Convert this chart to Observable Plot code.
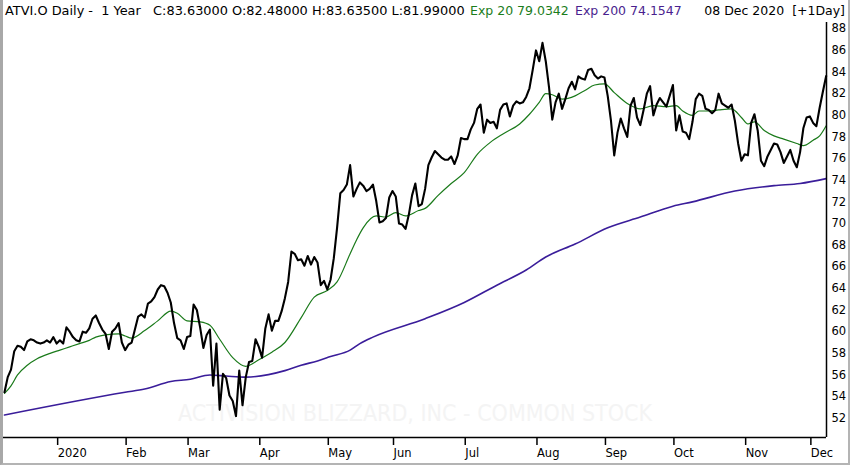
<!DOCTYPE html>
<html><head><meta charset="utf-8">
<script src="https://cdn.jsdelivr.net/npm/d3@7"></script>
<script src="https://cdn.jsdelivr.net/npm/@observablehq/plot@0.6"></script>
<style>
html,body{margin:0;padding:0;background:#fff;}
#wrap{position:relative;width:850px;height:465px;overflow:hidden;font-family:"DejaVu Sans",sans-serif;}
.hd{position:absolute;top:2px;font-size:12.5px;line-height:18px;white-space:pre;}
#border{position:absolute;left:0;top:0;width:850px;height:465px;box-sizing:border-box;border-left:3px solid #a8a8a8;border-right:2px solid #b4b4b4;border-bottom:2px solid #b4b4b4;pointer-events:none;}
#chart{position:absolute;left:0;top:0;}
</style></head>
<body>
<div id="wrap">
  <div id="chart"></div>
  <div class="hd" id="h1" style="left:5px;color:#000;font-size:12.9px"></div>
  <div class="hd" id="h2" style="left:470px;color:#1b7d1b"></div>
  <div class="hd" id="h3" style="left:575px;color:#4a1f8f"></div>
  <div class="hd" id="h4" style="right:5px;color:#000"></div>
  <div id="border"></div>
</div>
<script>
// ---- Data ----
const symbolTitle = "ATVI.O Daily -  1 Year";
const ohlc = ["C:83.63000", "O:82.48000", "H:83.63500", "L:81.99000"];
const exp20Label = "Exp 20 79.0342";
const exp200Label = "Exp 200 74.1547";
const dateLabel = "08 Dec 2020  [+1Day]";
const watermark = "ACTIVISION BLIZZARD, INC - COMMON STOCK";

// Daily closes, trading-day index 0 = 09 Dec 2019 ... 252 = 08 Dec 2020
const closeVals = [
  54.4, 55.8, 56.5, 58.2, 58.7, 58.6, 58.3, 59.1, 59.3, 59.2,
  59.0, 58.9, 59.0, 59.2, 59.0, 59.5, 58.9, 59.2, 58.9, 60.4,
  60.0, 59.5, 59.2, 59.1, 60.0, 59.9, 60.3, 61.2, 61.5, 60.8,
  60.2, 59.8, 58.4, 60.0, 60.3, 60.8, 59.0, 58.3, 58.8, 59.0,
  60.2, 61.4, 61.6, 61.3, 62.6, 62.8, 63.2, 63.9, 64.3, 64.2,
  63.6, 62.7, 60.8, 59.4, 59.2, 58.4, 59.5, 59.6, 62.5, 62.0,
  60.4, 58.5, 59.7, 60.2, 55.0, 58.9, 52.8, 56.1, 55.7, 54.1,
  53.6, 52.2, 56.4, 53.2, 55.8, 57.2, 57.3, 59.3, 58.6, 57.6,
  60.3, 61.6, 60.1, 61.0, 61.0, 61.9, 63.1, 64.6, 67.4, 67.2,
  66.6, 66.7, 66.1, 67.0, 66.2, 66.9, 66.4, 64.3, 64.7, 63.9,
  64.8, 66.8, 69.6, 72.8, 73.1, 73.6, 75.4, 72.5, 73.2, 73.8,
  73.5, 73.0, 73.2, 73.6, 72.1, 70.1, 70.2, 70.5, 72.4, 73.0,
  72.5, 70.0, 69.9, 69.5, 70.8, 72.6, 73.7, 71.6, 71.8, 73.2,
  75.4, 76.1, 76.7, 76.4, 76.1, 75.9, 75.9, 76.2, 75.5, 76.3,
  77.9, 77.8, 77.8, 78.7, 79.3, 80.6, 81.0, 78.4, 79.6, 79.3,
  79.4, 78.8, 80.5, 81.0, 81.1, 79.9, 80.9, 81.3, 81.1, 81.2,
  81.7, 82.5, 84.2, 86.0, 85.0, 86.7, 85.0, 82.6, 79.6, 81.2,
  82.0, 80.6, 81.5, 82.5, 83.1, 82.4, 83.6, 83.4, 83.3, 84.2,
  84.3, 83.7, 83.4, 83.6, 83.5, 81.8, 79.5, 76.3, 78.4, 79.7,
  78.8, 78.0, 80.9, 81.6, 79.8, 79.1, 80.5, 82.0, 82.7, 80.0,
  81.0, 81.6, 81.2, 80.8, 81.8, 82.8, 78.6, 80.0, 78.5, 78.4,
  77.8, 79.4, 81.5, 82.0, 81.8, 80.6, 80.5, 80.2, 80.5, 82.0,
  81.1, 80.9, 80.7, 81.0, 79.5, 77.4, 75.8, 76.4, 76.3, 79.3,
  80.1, 78.6, 75.8, 75.3, 76.2, 76.8, 77.4, 77.3, 76.6, 75.6,
  76.2, 76.8, 75.8, 75.2, 76.6, 78.8, 79.8, 79.9, 79.3, 79.0,
  80.7, 82.2, 83.63
];

// Exponential 20 (green), read at these trading-day indexes
const ema20Idx = [0,2,4,7,10,14,17,20,23,26,28,31,35,37,39,43,47,51,53,56,60,63,66,70,74,78,82,86,91,95,99,102,106,108,110,114,117,120,123,127,129,133,137,141,145,149,153,158,161,164,166,168,171,175,178,181,184,187,191,195,199,203,206,208,211,213,216,219,223,226,228,230,233,236,239,243,245,248,250,252];
const ema20Vals = [54.3,55.0,56.0,56.9,57.5,58.0,58.3,58.6,58.9,59.2,59.5,59.7,59.8,59.6,59.4,60.1,61.0,61.9,61.7,61.0,60.9,60.6,59.3,57.6,56.8,57.4,58.1,59.0,61.3,63.2,63.8,64.6,67.2,68.5,69.6,70.7,70.6,71.0,70.7,71.2,71.4,72.6,73.7,74.7,76.4,77.5,78.3,79.2,80.1,81.2,82.0,81.9,81.5,81.8,82.3,82.8,82.9,82.1,81.1,80.6,80.9,80.8,80.9,80.4,80.0,80.4,80.4,80.5,80.6,79.8,79.2,79.4,78.6,78.1,77.8,77.4,77.2,77.7,78.1,79.03];

// Exponential 200 (purple)
const ema200Idx = [0,37,43,51,57,63,68,74,86,91,96,100,106,109,113,129,141,151,160,166,175,185,195,205,211,224,236,244,252];
const ema200Vals = [52.3,54.4,54.7,55.4,55.6,56.0,55.9,55.8,56.4,56.9,57.3,57.7,58.3,58.9,59.5,61.2,62.7,64.3,65.7,66.9,68.1,69.6,70.6,71.6,72.0,73.0,73.5,73.7,74.15];

// Axis ticks
const monthIdx = [16,37,56,78,99,119,141,163,184,205,227,247];
const monthLabels = ["2020","Feb","Mar","Apr","May","Jun","Jul","Aug","Sep","Oct","Nov","Dec"];
const yTicks = [52,54,56,58,60,62,64,66,68,70,72,74,76,78,80,82,84,86,88];

// ---- Header ----
document.getElementById("h1").textContent = symbolTitle + "   " + ohlc.join(" ");
document.getElementById("h2").textContent = exp20Label;
document.getElementById("h3").textContent = exp200Label;
document.getElementById("h4").textContent = dateLabel;

// ---- Chart ----
const xMin = -0.3, xMax = 252.1, yMin = 50.22, yMax = 88.58;
const chart = Plot.plot({
  width: 850,
  height: 465,
  marginLeft: 3,
  marginRight: 24,
  marginTop: 22,
  marginBottom: 28,
  style: {fontFamily: '"DejaVu Sans", sans-serif', fontSize: "11.5px", background: "transparent", color: "#000"},
  x: {domain: [xMin, xMax]},
  y: {domain: [yMin, yMax]},
  marks: [
    Plot.text([watermark], {frameAnchor: "bottom", dy: -24, lineAnchor: "middle", fill: "#f4f4f4", fontSize: 23, fontFamily: '"DejaVu Sans Condensed", sans-serif'}),
    Plot.line(ema200Idx, {x: d => d, y: (d, i) => ema200Vals[i], stroke: "#3a1d9a", strokeWidth: 1.6, curve: "monotone-x"}),
    Plot.line(ema20Idx, {x: d => d, y: (d, i) => ema20Vals[i], stroke: "#1a7a1a", strokeWidth: 1.2, curve: "monotone-x"}),
    Plot.line(closeVals, {x: (d, i) => i, y: d => d, stroke: "#000", strokeWidth: 2.1}),
    Plot.axisX({ticks: monthIdx, tickFormat: d => monthLabels[monthIdx.indexOf(d)], tickSize: 8, tickPadding: 3, textAnchor: "start", dx: 1, strokeWidth: 1.5, label: null}),
    Plot.axisY({anchor: "right", ticks: yTicks, tickSize: 0, tickPadding: 5, label: null}),
    Plot.ruleY([yMin], {stroke: "#000", strokeWidth: 1.5}),
    Plot.ruleX([xMax], {stroke: "#000", strokeWidth: 1.5})
  ]
});
document.getElementById("chart").appendChild(chart);
</script>
</body></html>
